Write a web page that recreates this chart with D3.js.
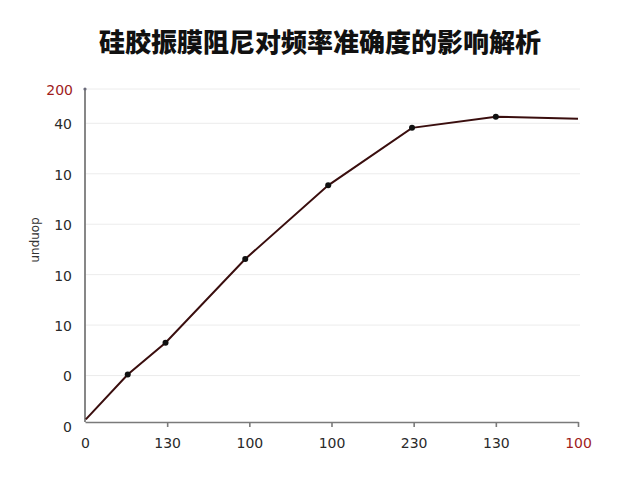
<!DOCTYPE html>
<html lang="zh">
<head>
    <meta charset="UTF-8">
    <title>硅胶振膜阻尼对频率准确度的影响解析</title>
    <script src="https://d3js.org/d3.v7.min.js"></script>
    <style>
        body {
            margin: 0;
            background: #ffffff;
            font-family: "DejaVu Sans", "Noto Sans", sans-serif;
        }
        .title {
            font-family: "Noto Sans CJK SC", sans-serif;
            font-weight: 900;
        }
    </style>
</head>
<body>
    <div id="chart"></div>
    <script>
        // chart data
        const xTickValues = [0, 1, 2, 3, 4, 5, 6];
        const xTickLabels = ["0", "130", "100", "100", "230", "130", "100"];
        const yTickValues = [0, 1, 2, 3, 4, 5, 6];
        const yTickLabels = ["0", "0", "10", "10", "10", "10", "40"];
        const yTopValue = 6.68;
        const yTopLabel = "200";
        const seriesX = [0.01, 0.52, 0.98, 1.95, 2.96, 3.98, 5.0, 6.0];
        const seriesY = [0.13, 1.02, 1.65, 3.31, 4.77, 5.91, 6.13, 6.09];
        const markerIdx = [1, 2, 3, 4, 5, 6];

        const width = 640, height = 480;
        const plotLeft = 85, plotRight = 578, plotTop = 89, plotBottom = 426;
        const axisY = 422;

        const svg = d3.select("#chart").append("svg")
            .attr("width", width).attr("height", height);

        const x = d3.scaleLinear().domain([0, 6]).range([plotLeft, plotRight]);
        const y = d3.scaleLinear().domain([0, yTopValue]).range([plotBottom, plotTop]);

        svg.append("text")
            .attr("class", "title")
            .attr("x", 320).attr("y", 52)
            .attr("text-anchor", "middle")
            .attr("font-size", 26)
            .attr("fill", "#111")
            .text("硅胶振膜阻尼对频率准确度的影响解析");

        // gridlines
        svg.append("g")
            .selectAll("line")
            .data(yTickValues.slice(1).concat([yTopValue]))
            .enter().append("line")
            .attr("x1", plotLeft).attr("x2", plotRight + 2)
            .attr("y1", d => y(d)).attr("y2", d => y(d))
            .attr("stroke", "#ececec")
            .attr("stroke-width", 1);

        // y labels
        const yl = svg.append("g");
        yl.selectAll("text.tick")
            .data(yTickValues)
            .enter().append("text")
            .attr("class", "tick")
            .attr("x", 72)
            .attr("y", d => y(d) + 1)
            .attr("dy", "0.35em")
            .attr("text-anchor", "end")
            .attr("font-size", 14)
            .attr("fill", "#2a2a2a")
            .text((d, i) => yTickLabels[i]);
        yl.append("text")
            .attr("x", 73)
            .attr("y", y(yTopValue) + 1)
            .attr("dy", "0.35em")
            .attr("text-anchor", "end")
            .attr("font-size", 14)
            .attr("fill", "#a01c1c")
            .text(yTopLabel);

        svg.append("text")
            .attr("transform", "translate(32,240) rotate(90)")
            .attr("text-anchor", "middle")
            .attr("font-size", 12)
            .attr("fill", "#333")
            .text("donpun");

        // x axis
        const xAxis = svg.append("g")
            .attr("transform", `translate(0,${axisY})`)
            .call(d3.axisBottom(x).tickValues(xTickValues).tickSize(5).tickSizeOuter(0)
                .tickFormat((d, i) => xTickLabels[i]));
        xAxis.select(".domain").attr("stroke", "#7a7a7a").attr("stroke-width", 1.6);
        xAxis.selectAll(".tick line").attr("stroke", "#7a7a7a").attr("stroke-width", 1.6);
        xAxis.selectAll(".tick text")
            .attr("y", 16)
            .attr("font-size", 14)
            .attr("font-family", "DejaVu Sans, sans-serif")
            .attr("fill", (d, i) => i === xTickLabels.length - 1 ? "#a01c1c" : "#2a2a2a");
        xAxis.select(".tick line").remove();

        // y axis line
        svg.append("line")
            .attr("x1", plotLeft).attr("x2", plotLeft)
            .attr("y1", y(yTopValue)).attr("y2", axisY)
            .attr("stroke", "#7a7a7a").attr("stroke-width", 1.8);
        svg.append("circle")
            .attr("cx", plotLeft).attr("cy", y(yTopValue)).attr("r", 1.6)
            .attr("fill", "#6a6a7a");

        // series
        const pts = seriesX.map((v, i) => [v, seriesY[i]]);
        const line = d3.line().x(d => x(d[0])).y(d => y(d[1]));
        svg.append("path")
            .datum(pts)
            .attr("fill", "none")
            .attr("stroke", "#3a0e0e")
            .attr("stroke-width", 2)
            .attr("d", line);

        svg.selectAll("circle.pt")
            .data(markerIdx.map(i => pts[i]))
            .enter().append("circle")
            .attr("class", "pt")
            .attr("cx", d => x(d[0]))
            .attr("cy", d => y(d[1]))
            .attr("r", 3)
            .attr("fill", "#111");
    </script>
</body>
</html>
